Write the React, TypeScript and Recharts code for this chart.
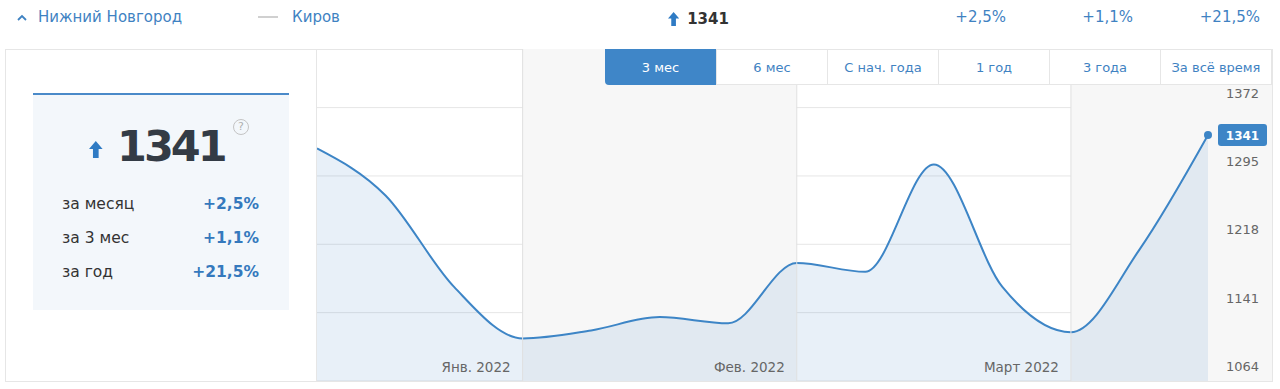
import { AreaChart, Area, XAxis, YAxis, CartesianGrid, ReferenceArea, ReferenceLine } from "recharts";

// weekly prices, last 3 months
const prices = [1326, 1273, 1170, 1112, 1121, 1136, 1129, 1197, 1187, 1308, 1170, 1119, 1212, 1341];
const monthTicks = [3, 7, 11];
const monthLabels = ["Янв. 2022", "Фев. 2022", "Март 2022"];
const priceTicks = [1064, 1141, 1218, 1295, 1372];
const priceDomain = [1064, 1438];
const shadedWeeks = [
  [3, 7],
  [11, 13],
];
const periods = ["3 мес", "6 мес", "С нач. года", "1 год", "3 года", "За всё время"];
const activePeriod = "3 мес";
const cities = ["Нижний Новгород", "Киров"];
const currentPrice = 1341;
const changeLabels = ["за месяц", "за 3 мес", "за год"];
const changeValues = ["+2,5%", "+1,1%", "+21,5%"];

const BLUE = "#3d85c6";
const LINK = "#3f82c2";
const BORDER = "#e6e6e6";
const FONT = "'DejaVu Sans', Verdana, sans-serif";

const data = prices.map((price, week) => ({ week, price }));

function UpArrow({ size = 14 }: { size?: number }) {
  return (
    <svg width={size * 0.8} height={size} viewBox="0 0 12 15" style={{ display: "block" }}>
      <path d="M6 0 L12 7 L8.5 7 L8.5 15 L3.5 15 L3.5 7 L0 7 Z" fill="#2f7bc4" />
    </svg>
  );
}

function Chevron() {
  return (
    <svg width={10} height={7} viewBox="0 0 10 7" style={{ display: "block" }}>
      <path d="M1 6 L5 2 L9 6" stroke={LINK} strokeWidth={1.8} fill="none" />
    </svg>
  );
}

// month name drawn just left of its boundary line, near the plot bottom
function MonthLabel(props: any) {
  const { viewBox, text } = props;
  if (!viewBox) return null;
  return (
    <text
      x={viewBox.x - 12}
      y={viewBox.y + viewBox.height - 9}
      textAnchor="end"
      fontSize={13.5}
      fill="#666"
      fontFamily={FONT}
    >
      {text}
    </text>
  );
}

function PriceTick(props: any) {
  const { y, payload } = props;
  return (
    <text x={942} y={y - 10} textAnchor="end" fontSize={13} fill="#666" fontFamily={FONT}>
      {payload.value}
    </text>
  );
}

function EndDot(props: any) {
  const { cx, cy, index } = props;
  if (index !== prices.length - 1) return <g key={index} />;
  return (
    <g key={index}>
      <circle cx={cx} cy={cy} r={4} fill={BLUE} />
      <rect x={cx + 10} y={cy - 11} width={49} height={22} rx={3} fill={BLUE} />
      <text
        x={cx + 34.5}
        y={cy + 4.5}
        textAnchor="middle"
        fill="#fff"
        fontSize={12}
        fontWeight="bold"
        fontFamily={FONT}
      >
        {prices[index]}
      </text>
    </g>
  );
}

export default function App() {
  return (
    <div style={{ position: "relative", width: 1280, height: 389, fontFamily: FONT, background: "#fff", overflow: "hidden" }}>
      <style>{"body{margin:0}"}</style>

      {/* header row */}
      <div style={{ position: "absolute", left: 17, top: 8, fontSize: 15, color: LINK, display: "flex", alignItems: "center" }}>
        <span style={{ marginRight: 11 }}>
          <Chevron />
        </span>
        {cities[0]}
      </div>
      <div style={{ position: "absolute", left: 258, top: 8, fontSize: 15, color: LINK, display: "flex", alignItems: "center" }}>
        <span style={{ display: "inline-block", width: 20, height: 2, background: "#d0d0d0", marginRight: 14 }} />
        {cities[1]}
      </div>
      <div style={{ position: "absolute", left: 668, top: 10, display: "flex", alignItems: "center", gap: 8 }}>
        <UpArrow size={14} />
        <span style={{ fontSize: 15, fontWeight: "bold", color: "#333" }}>{currentPrice}</span>
      </div>
      {changeValues.map((v, i) => (
        <div
          key={v}
          style={{ position: "absolute", right: [274, 147, 20][i], top: 8, fontSize: 15, color: LINK }}
        >
          {v}
        </div>
      ))}

      {/* panel frame */}
      <div
        style={{
          position: "absolute",
          left: 5,
          top: 49,
          width: 1268,
          height: 333,
          boxSizing: "border-box",
          border: `1px solid ${BORDER}`,
        }}
      />
      <div style={{ position: "absolute", left: 316, top: 49, width: 1, height: 333, background: BORDER }} />

      {/* left summary box */}
      <div style={{ position: "absolute", left: 33, top: 93, width: 256, height: 217, background: "#f3f7fb", borderTop: `2px solid #4a8ac9`, boxSizing: "border-box" }}>
        <div style={{ position: "absolute", left: 56, top: 46 }}>
          <UpArrow size={17} />
        </div>
        <div style={{ position: "absolute", left: 84, top: 26, fontSize: 43, fontWeight: "bold", color: "#333b45", letterSpacing: -3 }}>
          {currentPrice}
        </div>
        <div
          style={{
            position: "absolute",
            left: 200,
            top: 24,
            width: 14,
            height: 14,
            borderRadius: "50%",
            border: "1.5px solid #c4c4c4",
            color: "#b0b0b0",
            fontSize: 11,
            lineHeight: "14px",
            textAlign: "center",
          }}
        >
          ?
        </div>
        {changeLabels.map((label, i) => (
          <div key={label} style={{ position: "absolute", left: 29, right: 30, top: 100 + i * 34, display: "flex", justifyContent: "space-between", fontSize: 15.5 }}>
            <span style={{ color: "#333" }}>{label}</span>
            <span style={{ color: "#3579bd", fontWeight: "bold" }}>{changeValues[i]}</span>
          </div>
        ))}
      </div>

      {/* y-axis column background */}
      <div style={{ position: "absolute", left: 1208, top: 50, width: 64, height: 331, background: "#f7f7f7" }} />

      {/* chart */}
      <div style={{ position: "absolute", left: 317, top: 49 }}>
        <AreaChart width={955} height={332} data={data} margin={{ top: 0, right: 0, bottom: 0, left: 0 }}>
          {shadedWeeks.map(([a, b]) => (
            <ReferenceArea key={a} x1={a} x2={b} fill="#f7f7f7" fillOpacity={1} stroke="none" ifOverflow="visible" />
          ))}
          <CartesianGrid vertical={false} stroke={BORDER} />
          {monthTicks.map((t, i) => (
            <ReferenceLine key={t} x={t} stroke="#e0e0e0" label={<MonthLabel text={monthLabels[i]} />} />
          ))}
          <XAxis
            dataKey="week"
            type="number"
            domain={[0, prices.length - 1]}
            ticks={monthTicks}
            hide
          />
          <YAxis
            orientation="right"
            width={64}
            domain={priceDomain}
            ticks={priceTicks}
            axisLine={false}
            tickLine={false}
            tick={<PriceTick />}
            allowDataOverflow
            interval={0}
          />
          <Area
            type="monotone"
            dataKey="price"
            baseValue={priceDomain[0]}
            stroke={BLUE}
            strokeWidth={2}
            fill="#4184c4"
            fillOpacity={0.12}
            dot={<EndDot />}
            activeDot={false}
            isAnimationActive={false}
          />
        </AreaChart>
      </div>

      {/* period tabs */}
      {periods.map((p, i) => {
        const active = p === activePeriod;
        return (
          <div
            key={p}
            style={{
              position: "absolute",
              left: 605 + i * 111,
              top: 49,
              width: i === periods.length - 1 ? 112 : 111,
              height: 36,
              boxSizing: "border-box",
              background: active ? "#3f86c8" : "#fff",
              color: active ? "#fff" : LINK,
              borderLeft: active ? "none" : `1px solid ${BORDER}`,
              borderTop: `1px solid ${active ? "#3f86c8" : BORDER}`,
              borderBottom: active ? "none" : `1px solid ${BORDER}`,
              borderRight: i === periods.length - 1 ? `1px solid ${BORDER}` : "none",
              borderBottomLeftRadius: active ? 4 : 0,
              fontSize: 13,
              display: "flex",
              alignItems: "center",
              justifyContent: "center",
            }}
          >
            {p}
          </div>
        );
      })}
    </div>
  );
}
